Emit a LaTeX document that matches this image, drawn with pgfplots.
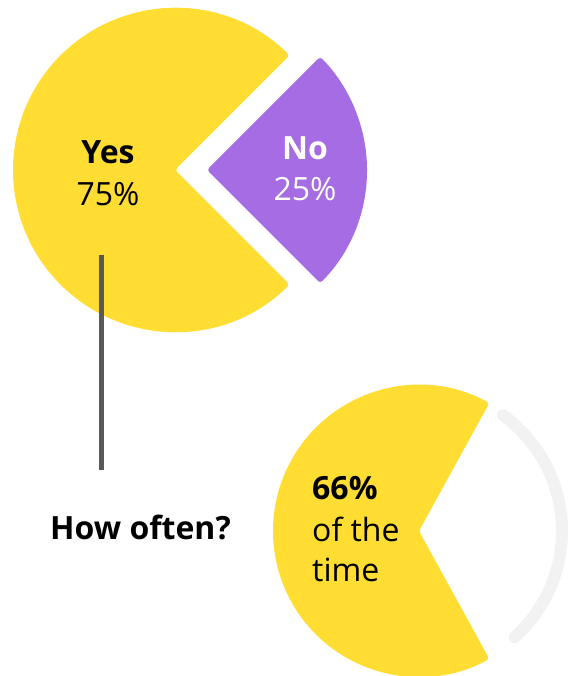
\documentclass[border=0pt]{standalone}
\usepackage{fontspec}
\setmainfont{Open Sans}
\usepackage{pgfplots}
\pgfplotsset{compat=1.18}
\definecolor{pieyellow}{HTML}{FFDD33}
\definecolor{piepurple}{HTML}{A66CE3}
\definecolor{stem}{HTML}{595959}
\definecolor{ringgray}{HTML}{F2F2F2}

% shares, in percent
\def\yesshare{75}
\def\noshare{25}
\def\oftenshare{66}

\begin{document}
\begin{tikzpicture}
\pgfmathsetmacro{\nohalf}{\noshare*3.6/2}
\pgfmathsetmacro{\yesstart}{\nohalf}
\pgfmathsetmacro{\yesend}{360-\nohalf}
\pgfmathsetmacro{\oftenhalf}{(100-\oftenshare)*3.6/2}
\pgfmathsetmacro{\oftenstart}{\oftenhalf}
\pgfmathsetmacro{\oftenend}{360-\oftenhalf}
\begin{axis}[
  width=570pt, height=676pt, scale only axis,
  xmin=0, xmax=570, ymin=0, ymax=676,
  hide axis,
  font=\fontsize{32}{41}\selectfont,
]
% first pie: yes / no, the "no" slice pulled out to the right
\fill[pieyellow, rounded corners=3pt] (axis cs:175,506)
  -- ++(\yesstart:162pt) arc[start angle=\yesstart, end angle=\yesend, radius=162pt] -- cycle;
\fill[piepurple, rounded corners=3pt] (axis cs:207,506)
  -- ++(-\nohalf:160pt) arc[start angle=-\nohalf, end angle=\nohalf, radius=160pt] -- cycle;

% stem down to the question
\draw[stem, line width=5pt] (axis cs:101,421) -- (axis cs:101,206);

% second pie: how often
\draw[ringgray, line width=12pt, line cap=round] (axis cs:419,145)
  ++(-48:143pt) arc[start angle=-48, end angle=54, radius=143pt];
\fill[pieyellow, rounded corners=3pt] (axis cs:419,145)
  -- ++(\oftenstart:146pt) arc[start angle=\oftenstart, end angle=\oftenend, radius=146pt] -- cycle;

% labels
\node[anchor=base, inner sep=0pt] at (axis cs:108,512) {\bfseries Yes};
\node[anchor=base, inner sep=0pt] at (axis cs:108,470) {\yesshare\%};
\node[anchor=base, inner sep=0pt, text=white] at (axis cs:305,516) {\bfseries No};
\node[anchor=base, inner sep=0pt, text=white] at (axis cs:305,475) {\noshare\%};
\node[anchor=base, inner sep=0pt] at (axis cs:140.5,136) {\bfseries How often?};
\node[anchor=base west, inner sep=0pt] at (axis cs:312,176) {\bfseries \oftenshare\%};
\node[anchor=base west, inner sep=0pt] at (axis cs:312,134) {of the};
\node[anchor=base west, inner sep=0pt] at (axis cs:312,94) {time};
\end{axis}
\end{tikzpicture}
\end{document}
